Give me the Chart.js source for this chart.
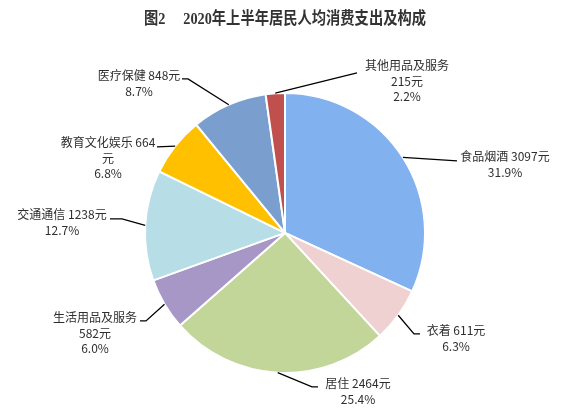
<!DOCTYPE html>
<html>
<head>
<meta charset="utf-8">
<script src="https://cdn.jsdelivr.net/npm/chart.js@4/dist/chart.umd.min.js"></script>
<style>
  html, body { margin: 0; padding: 0; background: #fff; }
  #wrap { width: 575px; height: 418px; }
</style>
</head>
<body>
<div id="wrap"><canvas id="myCanvas" width="575" height="418"></canvas></div>
<script>
'use strict';

// data
const categories = ['食品烟酒', '衣着', '居住', '生活用品及服务', '交通通信', '教育文化娱乐', '医疗保健', '其他用品及服务'];
const amounts = [3097, 611, 2464, 582, 1238, 664, 848, 215];
const shares = [31.9, 6.3, 25.4, 6.0, 12.7, 6.8, 8.7, 2.2];
const colors = ['#82b1ef', '#f0d1d2', '#c2d69a', '#a797c6', '#b7dde7', '#ffc000', '#7a9fcf', '#c0504d'];

// how each label is split into lines: 'inline' = name + amount on one line,
// 'stack' = name / amount / share, 'wrap' = name + number, then 元
const labelMode = ['inline', 'inline', 'inline', 'stack', 'inline', 'wrap', 'inline', 'stack'];

// label placement relative to pie centre (text centre of first line, leader elbow, leader end)
const labelPos = [
  { tx: 220, ty: -76, elbow: null, end: [172, -72] },
  { tx: 171, ty: 98, elbow: [129, 101], end: [135, 101] },
  { tx: 73, ty: 151, elbow: [27, 154], end: [33, 154] },
  { tx: -190, ty: 85, elbow: [-139, 88], end: [-145, 88] },
  { tx: -223, ty: -18, elbow: [-163, -14], end: [-175, -14] },
  { tx: -177, ty: -90, elbow: null, end: [-128, -86] },
  { tx: -146, ty: -157, elbow: [-97, -154], end: [-103, -154] },
  { tx: 122, ty: -167, elbow: null, end: [72, -160] }
];

function labelLines(i) {
  let name = categories[i];
  let amt = amounts[i];
  let pct = shares[i].toFixed(1) + '%';
  if (labelMode[i] == 'stack') return [name, amt + '元', pct];
  if (labelMode[i] == 'wrap') return [name + ' ' + amt, '元', pct];
  return [name + ' ' + amt + '元', pct];
}

const leaderLabels = {
  id: 'leaderLabels',
  afterDatasetsDraw(chart) {
    let ctx = chart.ctx;
    let arcs = chart.getDatasetMeta(0).data;
    ctx.save();
    arcs.forEach(function(arc, i) {
      let p = arc.getProps(['x', 'y', 'startAngle', 'endAngle', 'outerRadius'], true);
      let mid = (p.startAngle + p.endAngle) / 2;
      let sx = p.x + Math.cos(mid) * p.outerRadius;
      let sy = p.y + Math.sin(mid) * p.outerRadius;
      let lp = labelPos[i];

      ctx.strokeStyle = '#000';
      ctx.lineWidth = 1.3;
      ctx.beginPath();
      ctx.moveTo(sx, sy);
      if (lp.elbow) ctx.lineTo(p.x + lp.elbow[0], p.y + lp.elbow[1]);
      ctx.lineTo(p.x + lp.end[0], p.y + lp.end[1]);
      ctx.stroke();

      ctx.fillStyle = '#2e2e2e';
      ctx.font = '12px "Noto Sans CJK SC", sans-serif';
      ctx.textAlign = 'center';
      ctx.textBaseline = 'middle';
      labelLines(i).forEach(function(line, k) {
        ctx.fillText(line, p.x + lp.tx, p.y + lp.ty + k * 15.5);
      });
    });
    ctx.restore();
  }
};

let myChart = document.getElementById('myCanvas').getContext('2d');
let myPieChart = new Chart(myChart, {
  type: 'pie',
  data: {
    labels: categories,
    datasets: [{
      data: amounts,
      backgroundColor: colors,
      borderColor: '#ffffff',
      borderWidth: 2
    }]
  },
  options: {
    responsive: false,
    animation: false,
    layout: {
      padding: { top: 0, bottom: 44, left: 144, right: 149 }
    },
    plugins: {
      legend: { display: false },
      tooltip: { enabled: false },
      title: {
        display: true,
        text: '图2\u3000 2020年上半年居民人均消费支出及构成',
        color: '#333',
        font: { family: '"Liberation Serif", "Noto Sans CJK SC", serif', size: 16.5, weight: 'bold' },
        padding: { top: 10, bottom: 62 }
      }
    }
  },
  plugins: [leaderLabels]
});
</script>
</body>
</html>
